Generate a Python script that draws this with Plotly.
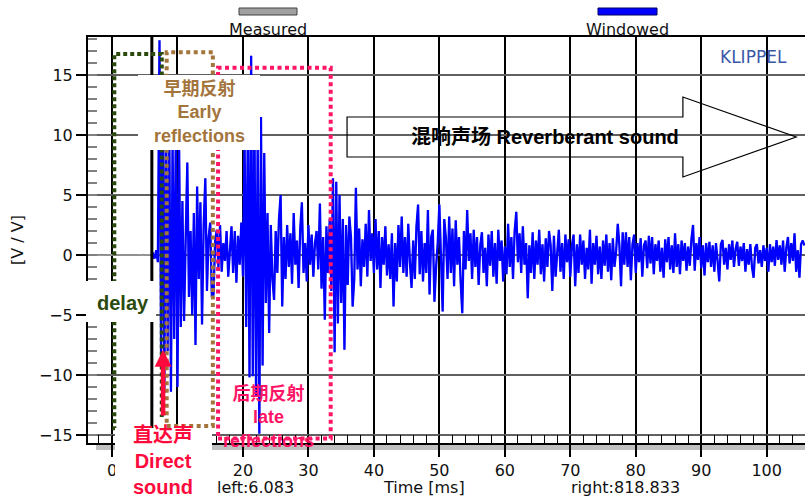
import plotly.graph_objects as go

# ---------------- data ----------------
win_t0 = 6.0      # ms, first sample of the windowed trace
win_dt = 0.25     # ms, sample spacing
windowed_v = [
    0.0, 0.1, -0.3, 0.4, -0.6, 17.9, -9.0, 14.0, -11.5, 12.0,
    -8.0, 10.5, -11.4, 9.5, -7.0, 11.0, -11.0, 9.0, -6.0, 4.5,
    -5.5, 3.0, 7.7, -3.5, 2.0, -5.0, 3.5, -7.5, 5.7, -2.0,
    4.4, -5.8, 2.5, 6.4, -3.0, 1.5, 2.7, -3.5, -3.3, 1.2,
    2.1, -1.0, 2.5, -1.4, 1.0, -0.5, 2.0, -1.8, 0.8, 2.4,
    -1.5, 2.0, -2.3, 1.6, -0.8, 2.7, -1.8, 9.5, -6.0, 11.0,
    -10.2, 16.6, -10.1, 12.0, -11.8, 10.0, -14.9, 11.5, -9.2, 8.5,
    -4.0, 3.5, -6.5, 2.5, -2.0, -3.75, 2.0, -1.5, 3.0, 5.0,
    -4.3, 1.5, -2.0, 2.5, -1.0, 1.8, -2.4, 3.5, -0.8, 1.2,
    -2.75, 2.2, 4.4, -1.5, 1.0, -2.2, 2.5, -0.8, 1.7, -1.8,
    1.0, 2.0, -1.2, 4.3, -2.8, 1.5, -5.4, 2.4, -1.5, 3.0,
    -3.0, 6.4, -8.1, 6.1, -5.7, 5.0, -4.0, 3.0, -7.9, 2.5,
    -2.5, 3.2, 1.5, -4.3, -2.0, 5.6, -1.2, 2.2, -2.6, 1.3,
    -1.0, 2.6, -1.8, 3.75, -0.5, 1.8, -1.5, 3.0, -1.2, 2.0,
    -2.75, 1.5, -0.8, 2.4, -1.7, 0.9, -2.0, 1.8, -4.3, 1.0,
    -2.2, 2.5, -1.0, 3.2, -1.5, 1.5, -1.8, 2.6, -0.6, -2.75,
    1.2, -2.0, 2.4, 4.2, -1.6, 2.0, -2.2, 1.0, -1.5, 3.75,
    -3.3, 1.5, 2.1, -3.9, -1.0, 1.0, 4.2, -1.0, -4.7, 3.0,
    1.4, -2.0, 3.2, -1.5, 2.2, -2.6, 2.9, -0.8, 1.5, -2.2,
    -4.85, 2.0, -1.2, 3.75, -0.5, 1.8, -2.0, 2.1, -1.0, 1.5,
    -2.5, 0.8, 1.9, -1.5, 0.6, -2.6, 1.7, -0.9, 2.0, -1.8,
    1.0, -2.4, 2.1, -0.5, 1.2, -2.2, 0.7, -1.6, 2.6, -1.0,
    1.5, -2.0, 2.0, 3.6, -0.6, 1.8, -1.5, 2.4, -0.8, 1.0,
    -3.6, 0.8, -1.5, 1.9, -2.0, 1.2, -0.8, 2.1, -1.6, 0.9,
    -2.2, 1.4, -1.0, 2.0, 0.8, -3.0, 1.6, -1.8, 0.5, 2.1,
    -1.4, 1.0, -2.0, 1.7, -0.6, 1.3, -1.8, 0.8, 1.7, -2.6,
    0.9, -1.5, 1.7, -0.8, 1.2, -2.0, 0.6, -1.2, 2.1, -2.4,
    1.0, -0.8, 1.6, -1.6, 0.7, -2.0, 1.2, -0.9, 1.7, -1.4,
    1.0, -2.1, 1.4, -1.0, 0.3, 2.6, 0.8, -2.6, 1.9, -0.8,
    1.9, -1.0, 1.5, -2.1, 0.9, 1.7, -1.5, 1.0, -0.6, 1.4,
    -1.8, 0.8, 1.2, -1.1, 1.6, -0.7, 1.5, -1.6, 0.9, -0.5,
    1.2, -1.4, 0.6, -1.9, 1.3, -0.6, 1.5, -1.2, 0.8, -1.5,
    1.8, -1.0, 0.9, -1.6, 1.2, -0.5, 1.0, -1.3, 0.7, -0.9,
    1.3, 2.5, -1.3, 1.0, -0.4, 1.5, -1.1, 0.8, -1.7, 1.0,
    -0.6, 1.1, -1.0, 0.8, -1.4, 1.0, -0.5, -2.2, 0.9, 1.25,
    -0.8, 0.6, -1.2, 0.9, -0.4, 1.2, -1.0, 0.5, 1.1, -0.9,
    0.7, -0.5, 1.0, -1.4, 0.5, -0.8, 0.9, -1.0, -1.9, 0.6,
    0.9, -0.7, 0.4, -1.0, 0.8, -0.5, 0.6, -1.4, 0.9, -0.6,
    0.7, -0.9, 1.25, -0.4, 0.8, -0.8, 1.2, -1.4, 0.6, 1.5,
    -0.7, 1.0, -0.5, 1.8, -1.4, 0.4, -1.9, 0.9, 1.2, 0.8,
]
win_t = [round(win_t0 + i * win_dt, 3) for i in range(len(windowed_v))]

# measured signal before the window start (nearly silent)
measured_pre_t = [-3.75, -3.25, -2.75, -2.25, -1.75, -1.25, -0.75, -0.25, 0.25, 0.75,
                  1.25, 1.75, 2.25, 2.75, 3.25, 3.75, 4.25, 4.75, 5.25, 5.75]
measured_pre_v = [0.0, 0.02, -0.01, 0.01, -0.02, 0.0, 0.01, -0.01, 0.02, 0.0,
                  -0.01, 0.01, 0.0, -0.02, 0.01, 0.0, 0.02, -0.01, 0.03, -0.02]
measured_t = measured_pre_t + win_t
measured_v = measured_pre_v + windowed_v

series_names = ["Measured", "Windowed"]
series_colors = ["#a0a0a0", "#0000ff"]
cursor_left = 6.083
cursor_right = 818.833
x_title = "Time [ms]"
y_title = "[V / V]"

# annotated regions (ms, V/V)
delay_region = (0.35, 7.6, -14.6, 16.75)
early_region = (8.35, 15.4, -14.25, 16.9)
late_region = (16.2, 33.4, -15.3, 15.6)
reverb_arrow = (35.9, 87.2, 104.5, 8.17, 11.5, 6.5, 13.17)
direct_arrow = (7.8, -13.5, -7.9)

X_RANGE = [-3.67, 105.85]
Y_RANGE = [-15.67, 18.17]

# ---------------- layout helpers ----------------
W, H = 805, 496
ML, MR, MT, MB = 88, 0, 37, 53
PW, PH = W - ML - MR, H - MT - MB


def fx(p):
    return (p - ML) / PW


def fy(p):
    return (H - MB - p) / PH


TICKF = "DejaVu Sans"
LABF = "Liberation Sans, Arial, Noto Sans CJK SC"
GREEN = "#2b4a0e"
BROWN = "#a3743c"
PINK = "#ff1466"
RED = "#ff0a3c"

fig = go.Figure()
fig.add_trace(go.Scatter(x=measured_t, y=measured_v, mode="lines", name=series_names[0],
                         line=dict(color=series_colors[0], width=1.5), showlegend=False))
fig.add_trace(go.Scatter(x=win_t, y=windowed_v, mode="lines", name=series_names[1],
                         line=dict(color=series_colors[1], width=2.3), showlegend=False))

shapes = []
# bottom scroll bar
shapes.append(dict(type="rect", xref="paper", yref="paper", x0=fx(96), x1=1.0, y0=fy(450), y1=fy(443),
                   fillcolor="#c0c0c0", line=dict(width=0), layer="below"))
# legend swatches
shapes.append(dict(type="rect", xref="paper", yref="paper", x0=fx(239), x1=fx(297), y0=fy(15), y1=fy(8),
                   fillcolor=series_colors[0], line=dict(color="#404040", width=1)))
shapes.append(dict(type="rect", xref="paper", yref="paper", x0=fx(598), x1=fx(657), y0=fy(15), y1=fy(8),
                   fillcolor=series_colors[1], line=dict(color="#000060", width=1)))
# left cursor
shapes.append(dict(type="line", xref="x", yref="paper", x0=cursor_left, x1=cursor_left, y0=0, y1=1,
                   line=dict(color="black", width=3)))
# dotted regions
dx0, dx1, dy0, dy1 = delay_region
shapes.append(dict(type="path", xref="x", yref="y",
                   path=f"M {dx0},{dy0} L {dx0},{dy1} L {dx1},{dy1} L {dx1},{-13.5}",
                   line=dict(color=GREEN, width=4, dash="4px,3px")))
ex0, ex1, ey0, ey1 = early_region
shapes.append(dict(type="rect", xref="x", yref="y", x0=ex0, x1=ex1, y0=ey0, y1=ey1,
                   line=dict(color=BROWN, width=4, dash="4px,3.5px")))
lx0, lx1, ly0, ly1 = late_region
shapes.append(dict(type="rect", xref="x", yref="y", x0=lx0, x1=lx1, y0=ly0, y1=ly1,
                   line=dict(color=PINK, width=4, dash="4px,3.5px")))
# reverberant arrow outline
ax0, ax1, atip, ab0, ab1, ah0, ah1 = reverb_arrow
amid = (ab0 + ab1) / 2
shapes.append(dict(type="path", xref="x", yref="y",
                   path=(f"M {ax0},{ab1} L {ax1},{ab1} L {ax1},{ah1} L {atip},{amid} "
                         f"L {ax1},{ah0} L {ax1},{ab0} L {ax0},{ab0} Z"),
                   line=dict(color="black", width=1.2), fillcolor="rgba(0,0,0,0)"))
# white label boxes
for (x0, x1, y0, y1) in [(138, 260, 75, 150), (86, 156, 281, 322), (115, 212, 428, 496)]:
    shapes.append(dict(type="rect", xref="paper", yref="paper", x0=fx(x0), x1=fx(x1),
                       y0=fy(y1), y1=fy(y0), fillcolor="white", line=dict(width=0), layer="above"))

ann = []


def txt(text, xp, yp, size, color, family=LABF, angle=0):
    ann.append(dict(text=text, xref="paper", yref="paper", x=fx(xp), y=fy(yp), showarrow=False,
                    xanchor="center", yanchor="middle", textangle=angle,
                    font=dict(family=family, size=size, color=color)))


txt(series_names[0], 268, 29, 16, "#111", TICKF)
txt(series_names[1], 627, 29, 16, "#111", TICKF)
txt("KLIPPEL", 753, 57, 17, "#3a57a8", TICKF)
txt("<b>早期反射<br>Early<br>reflections</b>", 199, 112.5, 18, BROWN)
txt("<b>后期反射<br>late<br>reflections</b>", 268, 417, 18, PINK)
txt("<b>delay</b>", 123, 303, 20, GREEN)
txt("<b>直达声<br>Direct<br>sound</b>", 162.5, 461, 20, RED)
txt("<b>混响声场 Reverberant sound</b>", 545, 137, 20, "black")
txt(f"left:{cursor_left}", 255, 487, 16, "#111", TICKF)
txt(x_title, 424, 487, 16, "#111", TICKF)
txt(f"right:{cursor_right}", 625, 487, 16, "#111", TICKF)
txt(y_title, 17, 240, 16, "#111", TICKF, angle=-90)

xa, ya0, ya1 = direct_arrow
ann.append(dict(text="", x=xa, y=ya1, ax=xa, ay=ya0, xref="x", yref="y", axref="x", ayref="y",
                showarrow=True, arrowhead=2, arrowsize=0.75, arrowwidth=4.5, arrowcolor=RED))

fig.update_layout(
    width=W, height=H,
    margin=dict(l=ML, r=MR, t=MT, b=MB, pad=0),
    paper_bgcolor="white", plot_bgcolor="white",
    showlegend=False,
    shapes=shapes, annotations=ann,
    xaxis=dict(range=X_RANGE, tick0=0, dtick=10, ticks="outside", ticklen=12, tickwidth=2,
               tickcolor="black", showgrid=True, gridcolor="black", gridwidth=1.5,
               zeroline=False, showline=True, linecolor="black", linewidth=1.5, mirror=True,
               tickfont=dict(family=TICKF, size=16, color="#111"),
               minor=dict(tick0=0, dtick=2, ticks="inside", ticklen=8, tickcolor="black",
                          tickwidth=1, showgrid=False)),
    yaxis=dict(range=Y_RANGE, tick0=0, dtick=5, ticks="outside", ticklen=10, tickwidth=1.5,
               tickcolor="black", showgrid=True, gridcolor="#606060", gridwidth=1.5,
               zeroline=False, showline=True, linecolor="black", linewidth=2,
               tickfont=dict(family=TICKF, size=16, color="#111"),
               minor=dict(tick0=0, dtick=1, ticks="inside", ticklen=9, tickcolor="#808080",
                          tickwidth=1.5, showgrid=False)),
)

fig.write_html("out.html", config={"displayModeBar": False},
               post_script="document.body.style.margin='0px';document.body.style.overflow='hidden';")
